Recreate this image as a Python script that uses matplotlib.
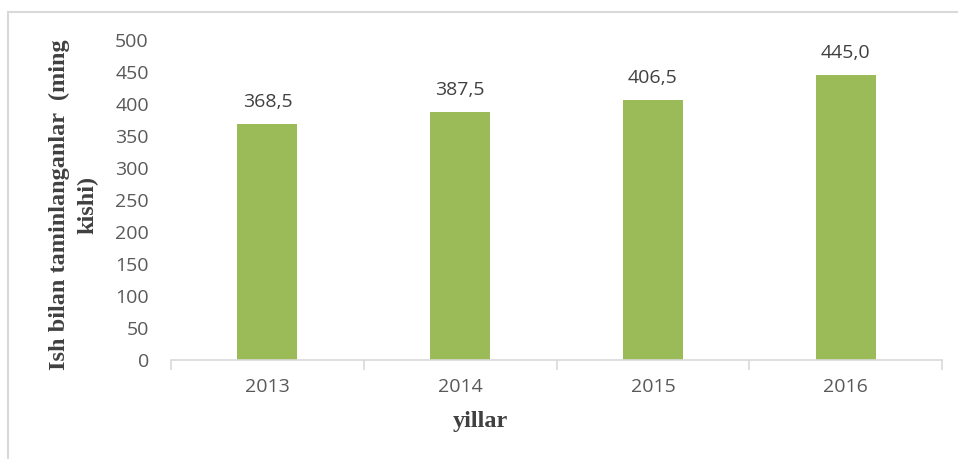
import numpy as np
import matplotlib.pyplot as plt
from matplotlib.patches import Rectangle

years = ['2013', '2014', '2015', '2016']
values = [368.5, 387.5, 406.5, 445.0]
value_labels = ['368,5', '387,5', '406,5', '445,0']

fig = plt.figure(figsize=(9.58, 4.59), dpi=100)
# light frame around the chart, like the excel chart area
fig.patches.append(Rectangle((8 / 958, -0.01), 0.995, 1 - 12 / 459 + 0.01,
                             transform=fig.transFigure, fill=False,
                             edgecolor='#d9d9d9', lw=1.5))

ax = fig.add_axes([171 / 958, 1 - 360 / 459, (942 - 171) / 958, 320 / 459])

x = np.arange(len(years))
ax.bar(x, values, width=0.31, color='#9bbb59', zorder=2)
for xi, v, lab in zip(x, values, value_labels):
    ax.text(xi, v + 20, lab, ha='center', va='bottom', fontsize=14,
            color='#404040', family='Open Sans')

ax.set_xlim(-0.5, len(years) - 0.5)
ax.set_ylim(0, 500)
ax.set_yticks(np.arange(0, 501, 50))
ax.set_xticks(x)
ax.set_xticklabels(years)
ax.set_xticks(np.arange(-0.5, len(years), 1), minor=True)

for s in ['top', 'right', 'left']:
    ax.spines[s].set_visible(False)
ax.spines['bottom'].set_color('#d9d9d9')
ax.spines['bottom'].set_linewidth(1.2)

ax.tick_params(axis='y', length=0, pad=16, labelsize=14, labelcolor='#595959')
ax.tick_params(axis='x', which='major', length=0, pad=13, labelsize=14,
               labelcolor='#595959')
ax.tick_params(axis='x', which='minor', length=7, color='#d9d9d9', width=1.2)
for t in ax.get_xticklabels() + ax.get_yticklabels():
    t.set_family('Open Sans')

ax.set_xlabel('yillar', fontsize=17.5, fontweight='bold', color='#404040',
              family='Liberation Serif')
ax.xaxis.set_label_coords((480 - 171) / 771, -0.16)
ax.set_ylabel('Ish bilan taminlanganlar  (ming\nkishi)', fontsize=17.5,
              fontweight='bold', color='#404040', family='Liberation Serif',
              linespacing=1.45)
ax.yaxis.set_label_coords((98 - 171) / 771, 0.484)

fig.savefig('out.png', dpi=100)
